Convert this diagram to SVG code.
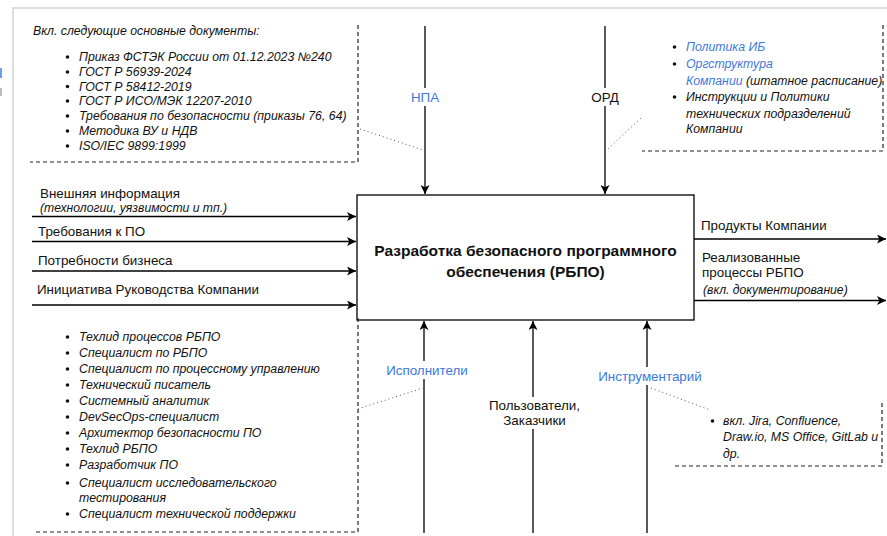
<svg xmlns="http://www.w3.org/2000/svg" width="887" height="536" viewBox="0 0 887 536">
<defs>
<marker id="arr" viewBox="0 0 10 10" refX="10" refY="5" markerWidth="9" markerHeight="9" markerUnits="userSpaceOnUse" orient="auto">
<path d="M0,0 L10,5 L0,10 L2.5,5 z" fill="#000"/>
</marker>
<style>
text{font-family:"Liberation Sans",Arial,sans-serif;fill:#111}
.t13{font-size:13.4px}
.it{font-size:12.3px;font-style:italic}
.it11{font-size:12.2px;font-style:italic}
.blue{fill:#3c78e0}
.title{font-size:15.5px;font-weight:bold;text-anchor:middle}
.mid{text-anchor:middle}
.arrow{stroke:#000;stroke-width:1.3;fill:none;marker-end:url(#arr)}
.dash{stroke:#222;stroke-width:1.2;stroke-dasharray:4,3;fill:none}
.dot{stroke:#555;stroke-width:1;stroke-dasharray:1,3;fill:none}
.bul{fill:#111}
.bg{fill:#fff}
.frame{stroke:#d4d4d4;stroke-width:1.5;fill:none}
</style>
</defs>
<rect width="887" height="536" fill="#fff"/>
<path class="frame" d="M13,536 V8 H887"/>
<rect x="0" y="68" width="2" height="10" fill="#6a9ee8"/>
<rect x="0" y="88" width="2" height="8" fill="#bbb"/>

<g id="connectors">
<line class="arrow" x1="425" y1="26" x2="425" y2="194"/>
<line class="arrow" x1="605" y1="26" x2="605" y2="194"/>
<line class="arrow" x1="32" y1="216.5" x2="356" y2="216.5"/>
<line class="arrow" x1="32" y1="241.5" x2="356" y2="241.5"/>
<line class="arrow" x1="32" y1="271" x2="356" y2="271"/>
<line class="arrow" x1="32" y1="305" x2="356" y2="305"/>
<line class="arrow" x1="694" y1="239" x2="886" y2="239"/>
<line class="arrow" x1="694" y1="300.5" x2="886" y2="300.5"/>
<line class="arrow" x1="424" y1="533" x2="424" y2="321"/>
<line class="arrow" x1="533" y1="533" x2="533" y2="321"/>
<line class="arrow" x1="647" y1="533" x2="647" y2="321"/>
<line class="dot" x1="360" y1="129" x2="423" y2="150"/>
<line class="dot" x1="608" y1="149" x2="641" y2="118"/>
<line class="dot" x1="358" y1="409" x2="423" y2="388"/>
<line class="dot" x1="651" y1="388" x2="710" y2="410"/>
</g>

<g id="label-npa">
<rect class="bg" x="408" y="88" width="34" height="18"/>
<text class="t13 blue mid" x="425" y="102">НПА</text>
</g>
<g id="label-ord">
<rect class="bg" x="588" y="88" width="34" height="18"/>
<text class="t13 mid" x="605" y="102">ОРД</text>
</g>
<g id="label-ispolniteli">
<rect class="bg" x="385" y="361" width="84" height="18"/>
<text class="t13 blue mid" x="427" y="375">Исполнители</text>
</g>
<g id="label-users">
<rect class="bg" x="487" y="397" width="94" height="32"/>
<text class="t13 mid" x="534.5" y="410">Пользователи,</text>
<text class="t13 mid" x="534.5" y="425">Заказчики</text>
</g>
<g id="label-instr">
<rect class="bg" x="596" y="367" width="108" height="18"/>
<text class="t13 blue mid" x="650" y="381">Инструментарий</text>
</g>

<g id="main">
<rect x="357" y="195" width="337" height="125" fill="#fff" stroke="#000" stroke-width="1.3"/>
<text class="title" x="525.5" y="255.5">Разработка безопасного программного</text>
<text class="title" x="525.5" y="276.5">обеспечения (РБПО)</text>
</g>

<g id="inputs">
<text class="t13" x="40" y="197.5">Внешняя информация</text>
<text class="it11" x="40" y="212">(технологии, уязвимости и тп.)</text>
<text class="t13" x="38" y="236">Требования к ПО</text>
<text class="t13" x="38" y="265">Потребности бизнеса</text>
<text class="t13" x="37" y="294">Инициатива Руководства Компании</text>
</g>

<g id="outputs">
<text class="t13" x="701" y="229.5">Продукты Компании</text>
<text class="t13" x="702" y="261.5">Реализованные</text>
<text class="t13" x="702" y="276.5">процессы РБПО</text>
<text class="it11" x="703" y="293.5">(вкл. документирование)</text>
</g>

<g id="npa-docs">
<path class="dash" d="M358,25 V162 H30"/>
<text class="it" x="33" y="35">Вкл. следующие основные документы:</text>
<circle class="bul" cx="67.5" cy="57" r="1.8"/>
<circle class="bul" cx="67.5" cy="72" r="1.8"/>
<circle class="bul" cx="67.5" cy="86.5" r="1.8"/>
<circle class="bul" cx="67.5" cy="101" r="1.8"/>
<circle class="bul" cx="67.5" cy="116" r="1.8"/>
<circle class="bul" cx="67.5" cy="131" r="1.8"/>
<circle class="bul" cx="67.5" cy="146" r="1.8"/>
<text class="it" x="79" y="61">Приказ ФСТЭК России от 01.12.2023 №240</text>
<text class="it" x="79" y="76">ГОСТ Р 56939-2024</text>
<text class="it" x="79" y="90.5">ГОСТ Р 58412-2019</text>
<text class="it" x="79" y="105">ГОСТ Р ИСО/МЭК 12207-2010</text>
<text class="it" x="79" y="120">Требования по безопасности (приказы 76, 64)</text>
<text class="it" x="79" y="135">Методика ВУ и НДВ</text>
<text class="it" x="79" y="150">ISO/IEC 9899:1999</text>
</g>

<g id="ord-docs">
<path class="dash" d="M883,25 V151 H642"/>
<circle class="bul" cx="674.5" cy="47" r="1.8"/>
<circle class="bul" cx="674.5" cy="64" r="1.8"/>
<circle class="bul" cx="674.5" cy="97" r="1.8"/>
<text class="it blue" x="686" y="51">Политика ИБ</text>
<text class="it blue" x="686" y="68">Оргструктура</text>
<text class="it" x="686" y="85"><tspan class="blue">Компании</tspan> (штатное расписание)</text>
<text class="it" x="686" y="101">Инструкции и Политики</text>
<text class="it" x="686" y="118">технических подразделений</text>
<text class="it" x="686" y="133">Компании</text>
</g>

<g id="executors">
<path class="dash" d="M358,318 V532 H33"/>
<circle class="bul" cx="67.5" cy="337" r="1.8"/>
<circle class="bul" cx="67.5" cy="353" r="1.8"/>
<circle class="bul" cx="67.5" cy="369" r="1.8"/>
<circle class="bul" cx="67.5" cy="385" r="1.8"/>
<circle class="bul" cx="67.5" cy="401" r="1.8"/>
<circle class="bul" cx="67.5" cy="417" r="1.8"/>
<circle class="bul" cx="67.5" cy="433" r="1.8"/>
<circle class="bul" cx="67.5" cy="449" r="1.8"/>
<circle class="bul" cx="67.5" cy="465" r="1.8"/>
<circle class="bul" cx="67.5" cy="483" r="1.8"/>
<circle class="bul" cx="67.5" cy="514" r="1.8"/>
<text class="it" x="79" y="341">Техлид процессов РБПО</text>
<text class="it" x="79" y="357">Специалист по РБПО</text>
<text class="it" x="79" y="373">Специалист по процессному управлению</text>
<text class="it" x="79" y="389">Технический писатель</text>
<text class="it" x="79" y="405">Системный аналитик</text>
<text class="it" x="79" y="421">DevSecOps-специалист</text>
<text class="it" x="79" y="437">Архитектор безопасности ПО</text>
<text class="it" x="79" y="453">Техлид РБПО</text>
<text class="it" x="79" y="469">Разработчик ПО</text>
<text class="it" x="79" y="487">Специалист исследовательского</text>
<text class="it" x="79" y="502">тестирования</text>
<text class="it" x="79" y="518">Специалист технической поддержки</text>
</g>

<g id="tools">
<path class="dash" d="M882,403 V466 H672"/>
<circle class="bul" cx="712.5" cy="421" r="1.8"/>
<text class="it" x="723" y="425">вкл. Jira, Confluence,</text>
<text class="it" x="723" y="441">Draw.io, MS Office, GitLab и</text>
<text class="it" x="723" y="458">др.</text>
</g>
</svg>
